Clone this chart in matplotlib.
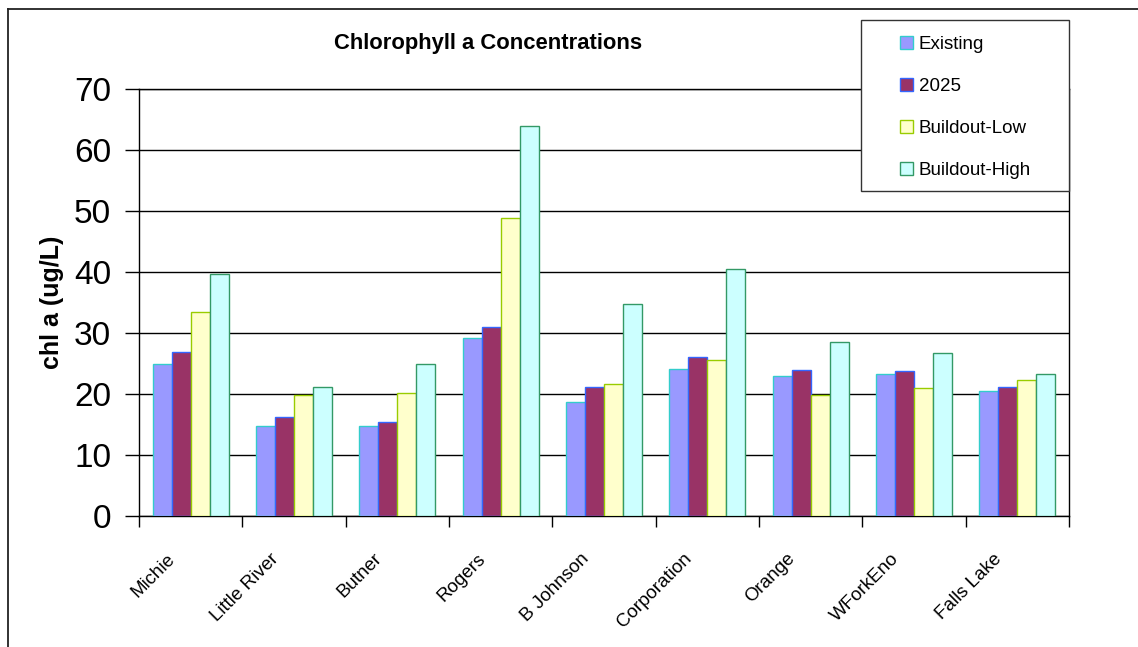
import matplotlib
matplotlib.use("Agg")
import matplotlib.pyplot as plt
from matplotlib.patches import Rectangle
from matplotlib.lines import Line2D
from matplotlib.transforms import ScaledTranslation
import numpy as np

plt.rcParams['font.family'] = ['Liberation Sans', 'DejaVu Sans']

categories = ["Michie", "Little River", "Butner", "Rogers", "B Johnson",
              "Corporation", "Orange", "WForkEno", "Falls Lake"]
existing = [25.0, 14.8, 14.7, 29.1, 18.7, 24.1, 23.0, 23.2, 20.5]
y2025 = [26.9, 16.3, 15.4, 31.0, 21.2, 26.1, 23.9, 23.7, 21.2]
buildout_low = [33.4, 19.8, 20.1, 48.9, 21.6, 25.5, 19.9, 21.0, 22.3]
buildout_high = [39.7, 21.2, 24.9, 63.9, 34.8, 40.5, 28.5, 26.8, 23.2]
series_names = ["Existing", "2025", "Buildout-Low", "Buildout-High"]
yticks = [0, 10, 20, 30, 40, 50, 60, 70]

W, H = 1138, 647
fig = plt.figure(figsize=(W / 100, H / 100), dpi=100)
fig.patch.set_facecolor("white")

ax = fig.add_axes([139 / W, 1 - 516 / H, (1069 - 139) / W, (516 - 89) / H])

series = [existing, y2025, buildout_low, buildout_high]
faces = ["#9999FF", "#993366", "#FFFFCC", "#CCFFFF"]
edges = ["#33CCCC", "#3366FF", "#99CC00", "#339966"]
bw = 0.184
x = np.arange(len(categories)) + 0.5
handles = []
for k, (vals, fc, ec) in enumerate(zip(series, faces, edges)):
    b = ax.bar(x + (k - 1.5) * bw, vals, width=bw, color=fc, edgecolor=ec,
               linewidth=1.0, zorder=3, label=series_names[k])
    handles.append(b)

ax.set_xlim(0, len(categories))
ax.set_ylim(0, 70)
ax.set_yticks(yticks)
ax.set_yticklabels([str(t) for t in yticks], fontsize=24)
ax.yaxis.grid(True, color="black", linewidth=1.0, zorder=0)
ax.set_axisbelow(True)
ax.tick_params(axis="y", direction="out", length=10, width=1, color="black", pad=10)

ax.set_xticks(np.arange(len(categories) + 1))
ax.set_xticklabels([])
ax.tick_params(axis="x", which="major", direction="out", length=8, width=1, color="black")
ax.set_xticks(x, minor=True)
ax.set_xticklabels(categories, minor=True, fontsize=13.5, rotation=45,
                   ha="right", va="center", rotation_mode="anchor")
ax.tick_params(axis="x", which="minor", length=0, pad=29)
offset = ScaledTranslation(-18 / 100, 0, fig.dpi_scale_trans)
for lab in ax.get_xticklabels(minor=True):
    lab.set_transform(lab.get_transform() + offset)

for s in ax.spines.values():
    s.set_color("black")
    s.set_linewidth(1.0)

ax.set_ylabel("chl a (ug/L)", fontsize=18, fontweight="bold", labelpad=7)

fig.text(488 / W, 1 - 44 / H, "Chlorophyll a Concentrations", fontsize=15.8,
         fontweight="bold", ha="center", va="center")

# outer chart border (clipped at right and bottom)
fig.add_artist(Line2D([8 / W, 1.0], [1 - 9 / H, 1 - 9 / H], color="#222222",
                      linewidth=1.3, transform=fig.transFigure))
fig.add_artist(Line2D([8 / W, 8 / W], [1 - 9 / H, 0.0], color="#222222",
                      linewidth=1.3, transform=fig.transFigure))

# legend box
fig.add_artist(Rectangle((861 / W, 1 - 191 / H), (1069 - 861) / W, (191 - 20) / H,
                         transform=fig.transFigure, facecolor="white",
                         edgecolor="#333333", linewidth=1.0, zorder=4))
leg = fig.legend(handles=handles, labels=series_names, loc="upper left",
                 bbox_to_anchor=(900 / W, 1 - 36 / H), frameon=False,
                 fontsize=13.5, handlelength=0.7, handleheight=0.7,
                 handletextpad=0.3, labelspacing=1.33, borderpad=0,
                 borderaxespad=0)
leg.set_zorder(5)

fig.savefig("out.png", dpi=100, facecolor="white")
